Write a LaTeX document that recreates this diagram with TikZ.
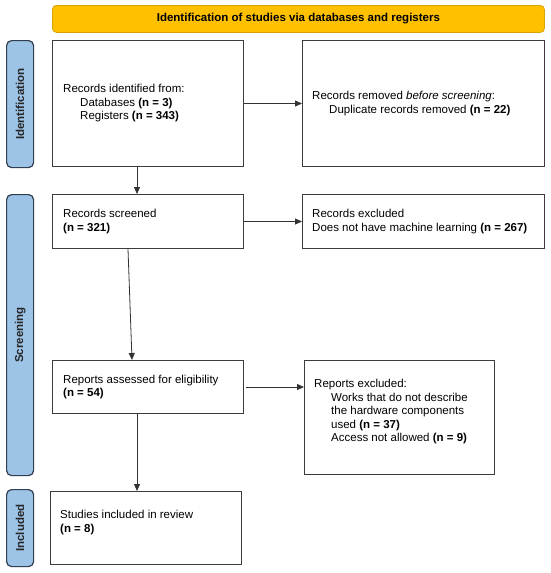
\documentclass[tikz,border=0pt]{standalone}
\usepackage{fontspec}
\setmainfont{Liberation Sans}
\usetikzlibrary{arrows.meta,calc}
\definecolor{gold}{HTML}{FFC000}
\definecolor{goldline}{HTML}{D9A400}
\definecolor{sideblue}{HTML}{9DC3E6}
\definecolor{sideline}{HTML}{2F3E50}
\definecolor{boxline}{HTML}{3C3C3C}
\begin{document}
\begin{tikzpicture}[x=1pt,y=-1pt,
  box/.style={draw=boxline, line width=1pt, fill=white, anchor=north west, inner sep=0pt},
  side/.style={draw=sideline, fill=sideblue, line width=1.2pt, rounded corners=5pt, anchor=north west, inner sep=0pt, minimum width=27pt},
  sidetxt/.style={rotate=90, font=\fontsize{11.5}{13}\selectfont\bfseries, text=black!85, inner sep=0pt},
  txt/.style={font=\fontsize{11.5}{13.5}\selectfont, align=left, inner sep=0pt, text=black},
  arr/.style={draw=black!80, line width=0.8pt, -{Triangle[length=7pt,width=6pt]}}]

\useasboundingbox[fill=white] (0,0) rectangle (550,573);

\node[draw=goldline, fill=gold, line width=0.8pt, rounded corners=4pt, minimum width=492pt, minimum height=27pt, anchor=north west, inner sep=0pt, font=\fontsize{11.5}{13}\selectfont\bfseries] (banner) at (52,5) {Identification of studies via databases and registers};

% side labels
\node[side, minimum height=127pt] (sid) at (6,40) {};
\node[sidetxt] (sidt) at (sid.center) {Identification};
\node[side, minimum height=281pt] (sscr) at (6,194) {};
\node[sidetxt] (sscrt) at (sscr.center) {Screening};
\node[side, minimum height=77pt] (sinc) at (6,489) {};
\node[sidetxt] (sinct) at (sinc.center) {Included};

% boxes
\node[box, minimum width=191pt, minimum height=126pt] (b1) at (52,40) {};
\node[box, minimum width=242pt, minimum height=126pt] (b2) at (302,40) {};
\node[box, minimum width=191pt, minimum height=54pt] (b3) at (52,194) {};
\node[box, minimum width=242pt, minimum height=54pt] (b4) at (302,194) {};
\node[box, minimum width=191pt, minimum height=53pt] (b5) at (52,360) {};
\node[box, minimum width=190pt, minimum height=114pt] (b6) at (304,360) {};
\node[box, minimum width=191pt, minimum height=73pt] (b7) at (50,491) {};

% texts
\node[txt, anchor=west] (t1) at ([xshift=11pt]b1.west) {Records identified from:\\\hspace*{17pt}Databases \textbf{(n = 3)}\\\hspace*{17pt}Registers \textbf{(n = 343)}};
\node[txt, anchor=west] (t2) at ([xshift=10pt]b2.west) {Records removed \textit{before screening}:\\\hspace*{17pt}Duplicate records removed \textbf{(n = 22)}};
\node[txt, anchor=west] (t3) at ([xshift=11pt]b3.west) {Records screened\\\textbf{(n = 321)}};
\node[txt, anchor=west] (t4) at ([xshift=10pt]b4.west) {Records excluded\\Does not have machine learning \textbf{(n = 267)}};
\node[txt, anchor=west] (t5) at ([xshift=11pt]b5.west) {Reports assessed for eligibility\\\textbf{(n = 54)}};
\node[txt, anchor=north west] (t6) at ([xshift=10pt,yshift=-19pt]b6.north west) {Reports excluded:\\\hspace*{17pt}Works that do not describe\\\hspace*{17pt}the hardware components\\\hspace*{17pt}used \textbf{(n = 37)}\\\hspace*{17pt}Access not allowed \textbf{(n = 9)}};
\node[txt, anchor=north west] (t7) at ([xshift=10pt,yshift=-19pt]b7.north west) {Studies included in review\\\textbf{(n = 8)}};

% arrows
\coordinate (c1) at (137,0);
\coordinate (c2) at (128,0);
\coordinate (c3) at (132,0);
\draw[arr] (b1.east) -- (b2.west);
\draw[arr] (b1.south -| c1) -- (b3.north -| c1);
\draw[arr] (b3.east) -- (b4.west);
\draw[arr] (b3.south -| c2) -- (b5.north -| c3);
\draw[arr, shorten <=2pt] (b5.east) -- (b5.east -| b6.west);
\draw[arr] (b5.south -| c1) -- (b7.north -| c1);
\end{tikzpicture}
\end{document}
